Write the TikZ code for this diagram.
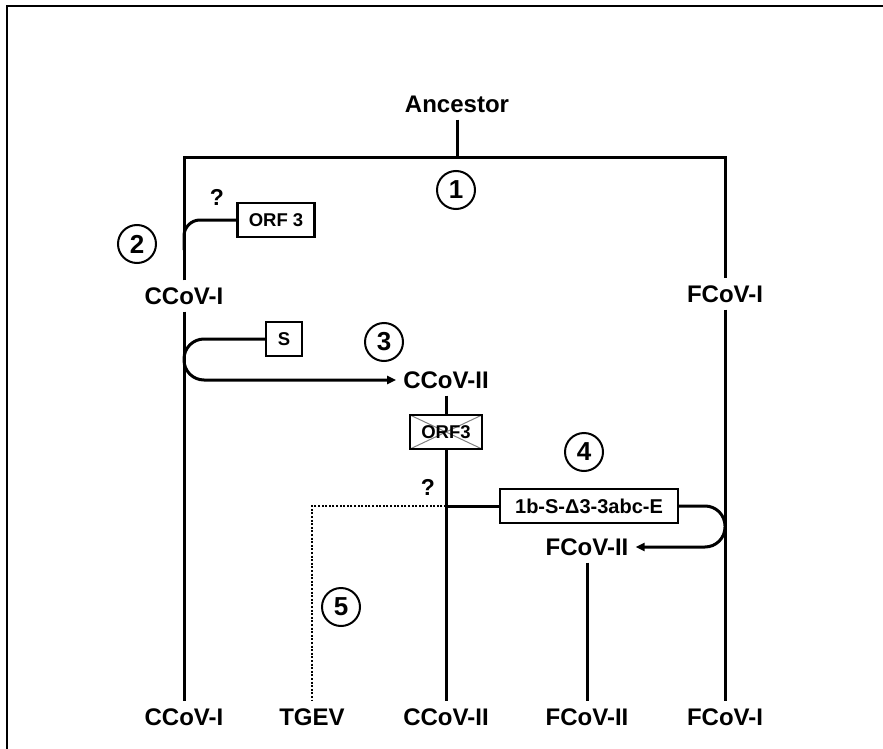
\documentclass[tikz,border=0pt]{standalone}
\usepackage{fontspec}
\setmainfont{Liberation Sans}
\usetikzlibrary{arrows.meta}

\begin{document}
\begin{tikzpicture}[
    x=1pt, y=-1pt,
    strain/.style={inner sep=7pt, font=\fontsize{24}{26}\selectfont\bfseries},
    gene/.style={rectangle, draw, line width=2.4pt, minimum height=34pt,
      inner sep=3pt, align=center, font=\fontsize{18.5}{20}\selectfont\bfseries},
    lost/.style={gene, path picture={
        \draw[gray, line width=1pt] (path picture bounding box.north west)
          -- (path picture bounding box.south east);
        \draw[gray, line width=1pt] (path picture bounding box.south west)
          -- (path picture bounding box.north east);}},
    stage/.style={circle, draw, line width=2pt, minimum size=38pt,
      inner sep=0pt, font=\fontsize{26}{28}\selectfont\bfseries},
    quest/.style={font=\fontsize{23}{25}\selectfont\bfseries},
    line/.style={line width=3pt},
    gain/.style={line, -{Triangle[length=9pt,width=8pt]}}
  ]
    \useasboundingbox (0,0) rectangle (883,749);
    % frame
    \draw[line width=2pt] (7,749) -- (7,6) -- (883,6);

    % Strains
    \node[strain] (anc) at (457,104) {Ancestor};
    \node[strain] (ccovI) at (184,296) {CCoV-I};
    \node[strain] (fcovI) at (725,294) {FCoV-I};
    \node[strain] (ccovII) at (446,380) {CCoV-II};
    \node[strain] (fcovII) at (587,547) {FCoV-II};
    \node[strain] (bccovI) at (184,717) {CCoV-I};
    \node[strain] (btgev) at (312,717) {TGEV};
    \node[strain] (bccovII) at (446,717) {CCoV-II};
    \node[strain] (bfcovII) at (587,717) {FCoV-II};
    \node[strain] (bfcovI) at (725,717) {FCoV-I};

    % Genes
    \node[gene, minimum width=77pt] (orf) at (276,220) {ORF 3};
    \node[gene, minimum width=36pt] (spike) at (284,339) {S};
    \node[lost, minimum width=72pt] (orfx) at (446,432) {ORF3};
    \node[gene, minimum width=178pt, font=\fontsize{20}{22}\selectfont\bfseries]
      (fuse) at (589,506) {1b-S-Δ3-3abc-E};

    % Stages
    \node[stage] (s1) at (456,190) {1};
    \node[stage] (s2) at (137,244) {2};
    \node[stage] (s3) at (384,342) {3};
    \node[stage] (s4) at (584,452) {4};
    \node[stage] (s5) at (341,607) {5};
    \node[quest] (q1) at (217,197) {?};
    \node[quest] (q2) at (428,487) {?};

    % Tree
    \coordinate (tl) at (184,157);
    \coordinate (tr) at (725,157);
    \draw[line] (anc) -- (anc |- tl);
    \draw[line] (ccovI) -- (tl) -- (tr) -- (fcovI);
    \draw[line] (ccovI) -- (bccovI);
    \draw[line] (fcovI) -- (bfcovI);
    \draw[line, rounded corners=16pt] (orf.west) -| (184,250);
    \draw[gain, rounded corners=20pt] (spike.west) -| (184,380) -- (ccovII.west);
    \draw[line] (ccovII) -- (orfx);
    \draw[line] (orfx) -- (bccovII);
    \draw[line] (orfx |- fuse) -- (fuse.west);
    \draw[line, dash pattern=on 2pt off 1.6pt, line width=2.4pt]
      (orfx |- fuse) -| (btgev);
    \draw[gain, rounded corners=20pt] (fuse.east) -| (725,547) -- (fcovII.east);
    \draw[line] (fcovII) -- (bfcovII);
  \end{tikzpicture}
\end{document}
